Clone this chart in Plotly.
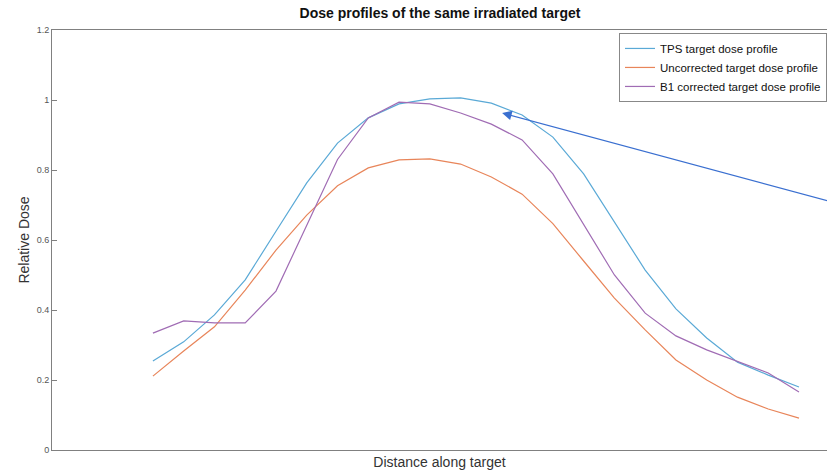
import plotly.graph_objects as go

# Sample positions along target (index)
positions = list(range(22))

tps_dose = [0.254, 0.309, 0.386, 0.486, 0.625, 0.763, 0.877, 0.949, 0.989, 1.003, 1.006,
            0.991, 0.957, 0.894, 0.789, 0.651, 0.514, 0.403, 0.320, 0.251, 0.214, 0.180]
uncorrected_dose = [0.211, 0.283, 0.352, 0.457, 0.571, 0.671, 0.755, 0.806, 0.829, 0.832, 0.817,
                    0.780, 0.731, 0.647, 0.540, 0.434, 0.343, 0.257, 0.200, 0.151, 0.117, 0.091]
b1_corrected_dose = [0.334, 0.369, 0.363, 0.363, 0.454, 0.640, 0.830, 0.949, 0.994, 0.989, 0.963,
                     0.931, 0.886, 0.789, 0.645, 0.500, 0.391, 0.326, 0.286, 0.252, 0.220, 0.166]

series_names = ["TPS target dose profile", "Uncorrected target dose profile", "B1 corrected target dose profile"]
series_colors = ["#5aa9d6", "#e8855a", "#a06cb4"]

y_ticks = [0, 0.2, 0.4, 0.6, 0.8, 1.0, 1.2]
y_tick_labels = ["0", "0.2", "0.4", "0.6", "0.8", "1", "1.2"]

# arrow head / tail in data coordinates
arrow_head = (11.35, 0.963)
arrow_tail = (22.1, 0.708)

fig = go.Figure()
for name, vals, col in zip(series_names, [tps_dose, uncorrected_dose, b1_corrected_dose], series_colors):
    fig.add_trace(go.Scatter(x=positions, y=vals, mode="lines", name=name,
                             line=dict(color=col, width=1.2)))

fig.add_annotation(x=arrow_head[0], y=arrow_head[1], ax=arrow_tail[0], ay=arrow_tail[1],
                   xref="x", yref="y", axref="x", ayref="y", text="", showarrow=True,
                   arrowhead=2, arrowsize=1.6, arrowwidth=1.2, arrowcolor="#3a6fd0")

font_family = "Arial, Liberation Sans, sans-serif"
fig.update_layout(
    width=827, height=473,
    margin=dict(l=52, r=0, t=30, b=23),
    paper_bgcolor="white", plot_bgcolor="white",
    font=dict(family=font_family, color="#222"),
    title=dict(text="<b>Dose profiles of the same irradiated target</b>", x=0.532, xanchor="center",
               y=0.972, yanchor="middle", font=dict(size=14, color="#111")),
    showlegend=True,
    legend=dict(x=1, xanchor="right", y=0.993, yanchor="top", bgcolor="white",
                bordercolor="#888", borderwidth=1, font=dict(size=11.5, color="#111"),
                tracegroupgap=0, itemwidth=30),
    xaxis=dict(range=[-3.28, 21.91], showticklabels=False, ticks="", showgrid=False, zeroline=False,
               showline=True, linecolor="#808080", linewidth=1, mirror=True,
               title=dict(text="Distance along target", font=dict(size=14, color="#333"), standoff=7)),
    yaxis=dict(range=[0, 1.2], tickvals=y_ticks, ticktext=y_tick_labels, ticks="inside", ticklen=5,
               tickcolor="#808080", showgrid=False, zeroline=False, showline=True, linecolor="#808080",
               linewidth=1, mirror=False, tickfont=dict(size=9, color="#555"),
               title=dict(text="Relative Dose", font=dict(size=14, color="#333"), standoff=3)),
)

fig.write_html("out.html", config={"displayModeBar": False},
               post_script="document.body.style.margin='0';document.body.style.overflow='hidden';")
